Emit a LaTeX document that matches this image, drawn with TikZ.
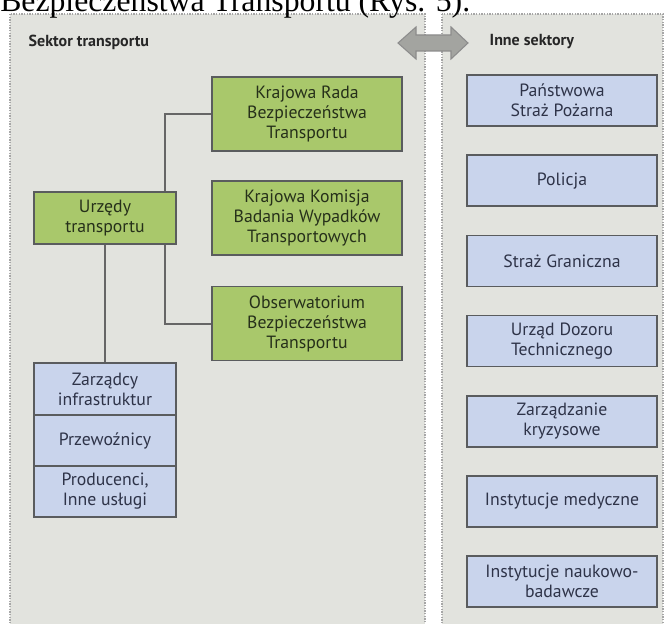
\documentclass[tikz,border=0pt]{standalone}
\usepackage{fontspec}
\setmainfont{Liberation Serif}
\setsansfont{PT Sans}
\usepackage{xcolor}
\usetikzlibrary{positioning,backgrounds}
\definecolor{panelgray}{HTML}{E2E3DE}
\definecolor{greenfill}{HTML}{A9C86B}
\definecolor{bluefill}{HTML}{C9D4EC}
\definecolor{boxline}{HTML}{5A5C5E}
\definecolor{greentext}{HTML}{26301A}
\definecolor{bluetext}{HTML}{2E3348}
\definecolor{arrowgray}{HTML}{A3A4A0}
\tikzset{
  panel/.style={draw=gray!70, densely dotted, fill=panelgray, line width=1pt},
  header/.style={anchor=west, font=\sffamily\bfseries\fontsize{12}{14}\selectfont, text=black!85},
  urzad/.style={
    rectangle,
    fill=greenfill,
    draw=boxline, line width=1.3pt,
    text=greentext,
    font=\sffamily\fontsize{13.3}{15}\selectfont,
    align=center,
    minimum width=142.5pt,
    minimum height=55.5pt,
    inner sep=0pt},
  sektor/.style={
    rectangle,
    fill=bluefill,
    draw=boxline, line width=1.3pt,
    text=bluetext,
    font=\sffamily\fontsize{13.3}{15}\selectfont,
    align=center,
    minimum width=142.5pt,
    minimum height=38.25pt,
    inner sep=0pt},
  podmiot/.style={sektor, minimum width=106.5pt},
  laczenie/.style={draw=black!60, line width=1.5pt},
}

\begin{document}
\begin{tikzpicture}[x=0.75pt, y=-0.75pt]
  \useasboundingbox (0,0) rectangle (668,624);

  % tlo: dwa sektory
  \begin{scope}[on background layer]
    \fill[white] (0,0) rectangle (668,624);
    \path[panel] (10,14) rectangle (425,640);
    \path[panel] (442,14) rectangle (663,640);
  \end{scope}

  \node[anchor=base west, inner sep=0pt, font=\fontsize{23.8}{26}\selectfont] (tytul) at (0,12)
    {Bezpieczeństwa Transportu (Rys. 5).};

  \node[header] (sektorT) at (24,42) {Sektor transportu};
  \node[header] (sektorI) at (485,42) {Inne sektory};

  % strzalka miedzy sektorami
  \draw[fill=arrowgray, draw=black!45, line width=0.8pt]
    (398,43) -- (416,27) -- (416,35) -- (451,35) -- (451,27) -- (468,43)
    -- (451,59) -- (451,51) -- (416,51) -- (416,59) -- cycle;

  % sektor transportu
  \node[urzad] (rada) at (307,114) {Krajowa Rada\\Bezpieczeństwa\\Transportu};
  \node[urzad] (komisja) at (307,218) {Krajowa Komisja\\Badania Wypadków\\Transportowych};
  \node[urzad] (obserw) at (307,323.5) {Obserwatorium\\Bezpieczeństwa\\Transportu};
  \node[urzad, minimum width=106.5pt, minimum height=39pt] (urzedy) at (105,218) {Urzędy\\transportu};

  \node[podmiot, minimum height=39pt] (zarzadcy) at (105,389) {Zarządcy\\infrastruktur};
  \node[podmiot, below=-1.3pt of zarzadcy] (przewoz) {Przewoźnicy};
  \node[podmiot, below=-1.3pt of przewoz] (producenci) {Producenci,\\Inne usługi};

  \coordinate (wezel) at (165,218);

  % inne sektory
  \node[sektor] (straz) at (562,100.5) {Państwowa\\Straż Pożarna};
  \node[sektor, below=20.6pt of straz] (policja) {Policja};
  \node[sektor, below=20.6pt of policja] (graniczna) {Straż Graniczna};
  \node[sektor, below=20.6pt of graniczna] (dozor) {Urząd Dozoru\\Technicznego};
  \node[sektor, below=20.6pt of dozor] (kryzys) {Zarządzanie\\kryzysowe};
  \node[sektor, below=20.6pt of kryzys] (medyczne) {Instytucje medyczne};
  \node[sektor, below=20.6pt of medyczne] (naukowe) {Instytucje naukowo-\\badawcze};

  \begin{scope}[on background layer]
    \path[laczenie] (rada.west) -| (wezel) |- (obserw.west);
    \path[laczenie] (urzedy.south) -- (zarzadcy.north);
  \end{scope}
\end{tikzpicture}
\end{document}
